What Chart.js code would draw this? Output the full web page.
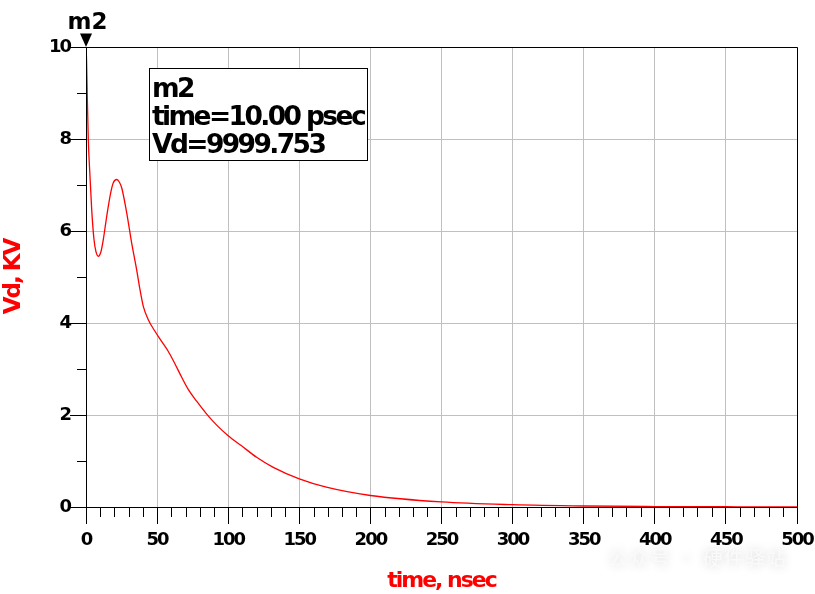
<!DOCTYPE html>
<html>
<head>
<meta charset="utf-8">
<script src="https://cdn.jsdelivr.net/npm/chart.js@4.4.1/dist/chart.umd.min.js"></script>
<style>
  html, body { margin: 0; padding: 0; background: #fff; }
  #wrap { width: 815px; height: 594px; position: relative; }
</style>
</head>
<body>
<div id="wrap"><canvas id="c" width="815" height="594"></canvas></div>
<script>
// ---- data ----
const timeNs = [0, 0.4, 0.9, 1.6, 2.8, 4.0, 5.6, 7.0, 8.7, 10.5, 12.2, 14.0, 15.7, 17.5, 19.2, 21.6, 23.5, 25.1, 28.6, 32.1, 35.6, 38.0, 40.3, 43.8, 48.5, 53.2, 57.9, 62.6, 67.3, 72.0, 77.8, 84.9, 91.9, 100, 109.4, 120, 131.7, 150, 169, 200, 250, 300, 350, 400, 450, 500];
const vdKV   = [10.0, 9.7, 8.93, 8.0, 7.19, 6.47, 5.82, 5.55, 5.45, 5.55, 5.82, 6.2, 6.54, 6.85, 7.05, 7.12, 7.06, 6.94, 6.40, 5.74, 5.16, 4.72, 4.36, 4.07, 3.82, 3.60, 3.38, 3.11, 2.82, 2.55, 2.30, 2.02, 1.78, 1.55, 1.33, 1.08, 0.86, 0.61, 0.43, 0.25, 0.11, 0.05, 0.022, 0.01, 0.005, 0.002];
const xTickStep = 50, xMin = 0, xMax = 500, xMinorStep = 10;
const yTickStep = 2, yMin = 0, yMax = 10, yMinorStep = 1;
const markerName = "m2";
const markerTime = 0.01;     // 10.00 psec in nsec
const markerValue = 9999.753; // V
const markerLines = ["m2", "time=10.00 psec", "Vd=9999.753"];
const xTitle = "time, nsec";
const yTitle = "Vd, KV";
const watermark = "公众号 · 硬件驿站";

const FONT = "'DejaVu Sans', sans-serif";

const points = timeNs.map((t, i) => ({ x: t, y: vdKV[i] }));

const extras = {
  id: 'extras',
  beforeDraw(chart) {
    chart.ctx.letterSpacing = '-2px';
  },
  afterDraw(chart) {
    const ctx = chart.ctx;
    const xs = chart.scales.x, ys = chart.scales.y;
    const a = chart.chartArea;
    ctx.save();
    ctx.letterSpacing = '0px';
    // minor ticks
    ctx.strokeStyle = '#000';
    ctx.lineWidth = 1;
    ctx.beginPath();
    for (let v = xMin + xMinorStep; v < xMax; v += xMinorStep) {
      if (v % xTickStep === 0) continue;
      const px = Math.round(xs.getPixelForValue(v)) + 0.5;
      ctx.moveTo(px, a.bottom);
      ctx.lineTo(px, a.bottom + 10);
    }
    for (let v = yMin + yMinorStep; v < yMax; v += yMinorStep) {
      if (v % yTickStep === 0) continue;
      const py = Math.round(ys.getPixelForValue(v)) + 0.5;
      ctx.moveTo(a.left - 9, py);
      ctx.lineTo(a.left, py);
    }
    ctx.stroke();
    // frame
    ctx.beginPath();
    ctx.rect(Math.round(a.left) + 0.5, Math.round(a.top) + 0.5, Math.round(a.right - a.left), Math.round(a.bottom - a.top));
    ctx.stroke();

    // marker triangle + name
    const mx = xs.getPixelForValue(markerTime);
    const my = ys.getPixelForValue(markerValue / 1000);
    ctx.fillStyle = '#000';
    ctx.beginPath();
    ctx.moveTo(mx - 6, my - 13.5);
    ctx.lineTo(mx + 6, my - 13.5);
    ctx.lineTo(mx, my);
    ctx.closePath();
    ctx.fill();
    ctx.font = "bold 23px " + FONT;
    ctx.textAlign = 'center';
    ctx.textBaseline = 'alphabetic';
    ctx.fillText(markerName, mx + 1.5, 28.5);

    // readout box
    const bx = a.left + 63, by = a.top + 21, bw = 218, bh = 92;
    ctx.fillStyle = '#fff';
    ctx.fillRect(bx, by, bw, bh);
    ctx.strokeStyle = '#000';
    ctx.lineWidth = 1;
    ctx.strokeRect(bx + 0.5, by + 0.5, bw, bh);
    ctx.fillStyle = '#000';
    ctx.font = "bold 26.5px " + FONT;
    ctx.letterSpacing = '-2.6px';
    ctx.textAlign = 'left';
    markerLines.forEach((s, i) => {
      ctx.fillText(s, bx + 3, by + 29 + i * 28);
    });

    // faint watermark
    ctx.letterSpacing = '1px';
    ctx.font = "20px 'Noto Sans CJK SC', sans-serif";
    ctx.shadowColor = 'rgba(0,0,0,0.18)';
    ctx.shadowBlur = 10;
    ctx.fillStyle = 'rgba(250,250,250,0.95)';
    ctx.fillText(watermark, 608, 566);
    ctx.shadowBlur = 0;
    ctx.restore();
  }
};

new Chart(document.getElementById('c'), {
  type: 'line',
  data: {
    datasets: [{
      data: points,
      borderColor: 'rgb(255,0,0)',
      borderWidth: 1.3,
      pointRadius: 0,
      fill: false,
      cubicInterpolationMode: 'monotone'
    }]
  },
  options: {
    responsive: false,
    animation: false,
    devicePixelRatio: 1,
    layout: { padding: { top: 47, right: 18, left: 0, bottom: 0 } },
    plugins: { legend: { display: false }, tooltip: { enabled: false } },
    scales: {
      x: {
        type: 'linear',
        min: xMin, max: xMax,
        afterFit(s) { s.height = 87; s.paddingLeft = 0; s.paddingRight = 0; },
        ticks: {
          stepSize: xTickStep,
          color: '#000',
          font: { family: FONT, size: 18, weight: 'bold' },
          padding: 6,
          maxRotation: 0
        },
        grid: { color: '#c0c0c0', tickColor: '#000', tickLength: 17, lineWidth: 1 },
        border: { color: '#000', width: 1 },
        title: {
          display: true, text: xTitle, color: 'rgb(255,0,0)',
          font: { family: FONT, size: 22, weight: 'bold' },
          padding: { top: 0, bottom: 0 }
        }
      },
      y: {
        type: 'linear',
        min: yMin, max: yMax,
        afterFit(s) { s.width = 86; s.paddingTop = 0; s.paddingBottom = 0; },
        ticks: {
          stepSize: yTickStep,
          color: '#000',
          font: { family: FONT, size: 18, weight: 'bold' },
          padding: 0
        },
        grid: { color: '#c0c0c0', tickColor: '#000', tickLength: 16, lineWidth: 1 },
        border: { color: '#000', width: 1 },
        title: {
          display: true, text: yTitle, color: 'rgb(255,0,0)',
          font: { family: FONT, size: 23, weight: 'bold' },
          padding: { top: 0, bottom: 0 }
        }
      }
    }
  },
  plugins: [extras]
});
</script>
</body>
</html>
